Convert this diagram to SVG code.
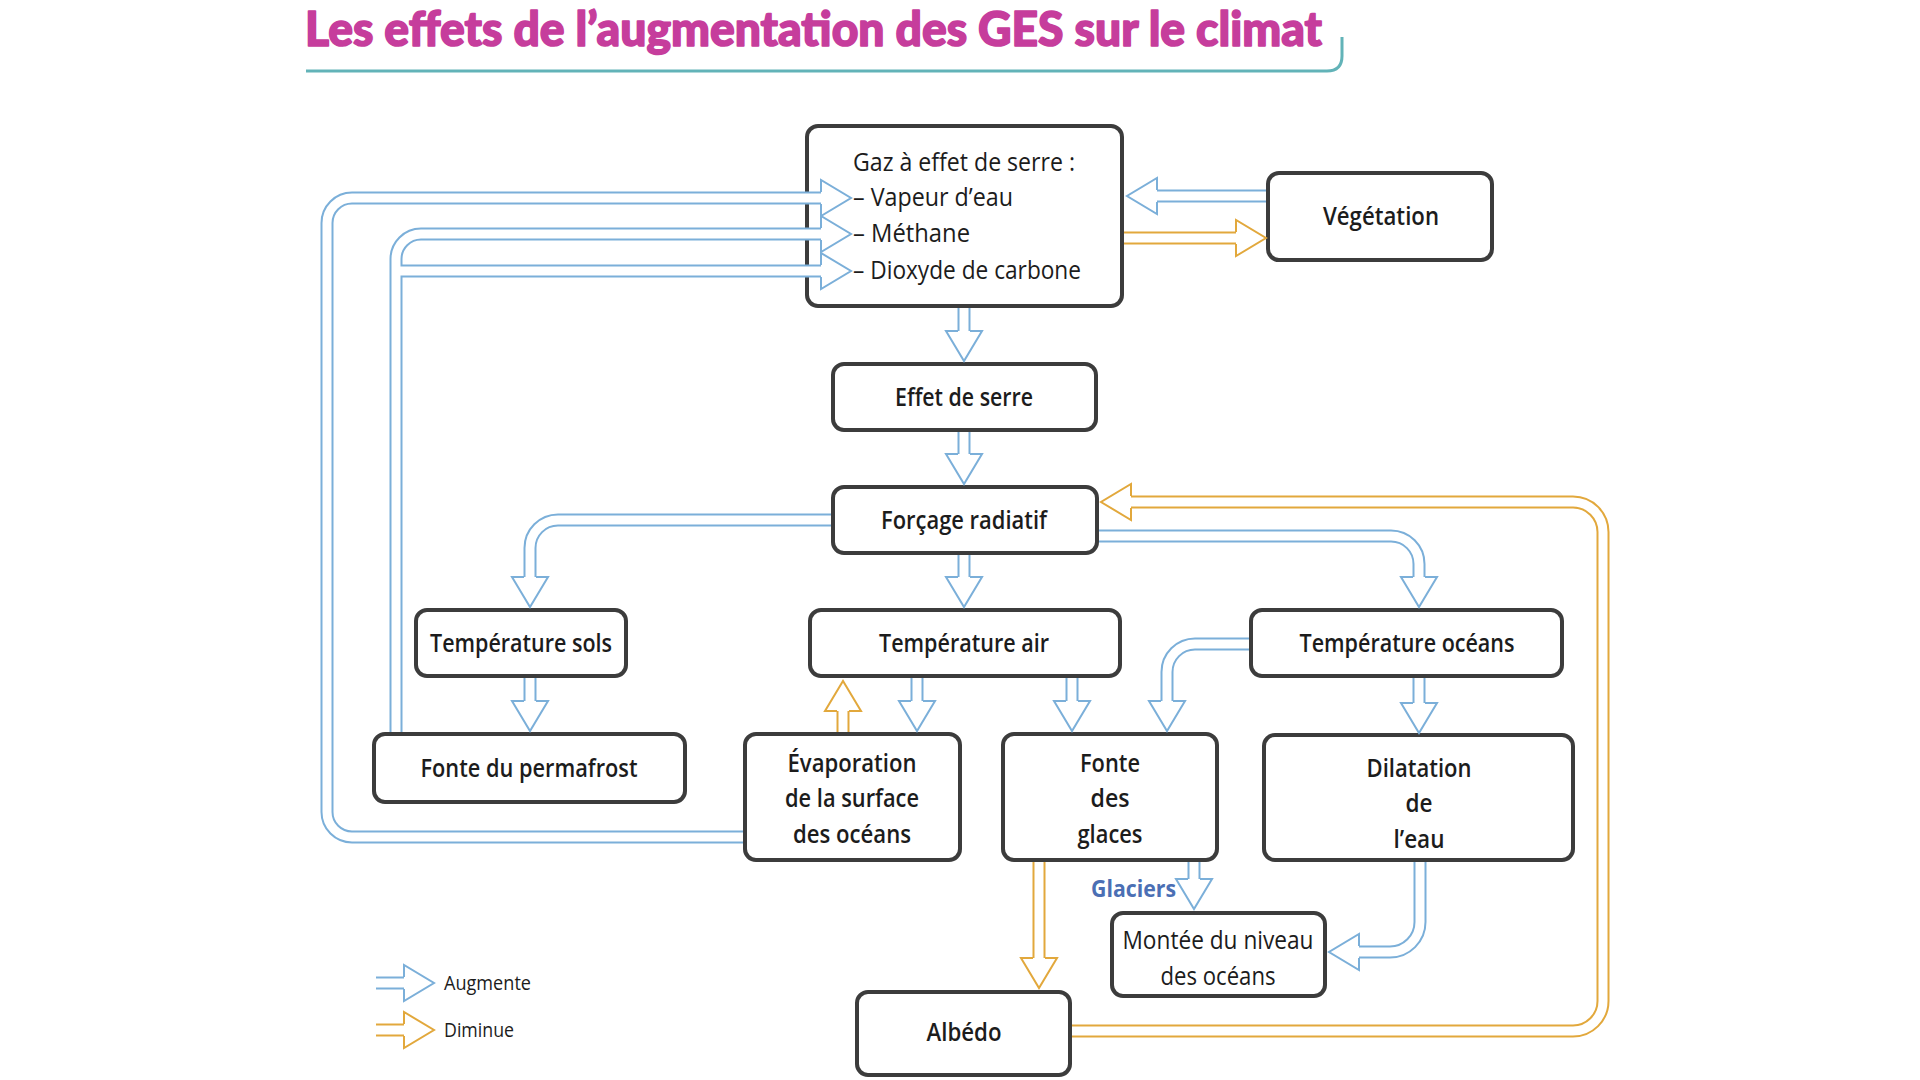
<svg xmlns="http://www.w3.org/2000/svg" width="1920" height="1080" viewBox="0 0 1920 1080">
<style>
.box{fill:#fff;stroke:#3c3c3c;stroke-width:4}
.lbl{font-family:"Open Sans","Noto Sans",sans-serif;font-size:25px;fill:#1c1c1c;text-anchor:middle;font-weight:600}
.reg{font-weight:400}
.mid{font-weight:500}
.left{text-anchor:start}
.bo{fill:none;stroke:#7bafd9;stroke-width:13}
.oo{fill:none;stroke:#e2a83c;stroke-width:13}
.in{fill:none;stroke:#fff;stroke-width:9}
.leg{font-family:"Open Sans","Noto Sans",sans-serif;font-size:20px;fill:#1c1c1c}
</style>
<defs>
<marker id="hb" markerUnits="userSpaceOnUse" markerWidth="40" markerHeight="40" viewBox="0 0 40 40" refX="1" refY="20" orient="auto" overflow="visible">
<path d="M1,14 L1,2 L31,20 L1,38 L1,26" fill="#fff" stroke="#7bafd9" stroke-width="2"/>
</marker>
<marker id="ho" markerUnits="userSpaceOnUse" markerWidth="40" markerHeight="40" viewBox="0 0 40 40" refX="1" refY="20" orient="auto" overflow="visible">
<path d="M1,14 L1,2 L31,20 L1,38 L1,26" fill="#fff" stroke="#e2a83c" stroke-width="2"/>
</marker>
</defs>
<rect width="1920" height="1080" fill="#fff"/>

<g id="title">
<text x="305" y="46" font-family="Lato,'Open Sans',sans-serif" font-weight="900" font-size="48" fill="#c63d9c" stroke="#c63d9c" stroke-width="1.6" stroke-linejoin="round" textLength="1017" lengthAdjust="spacingAndGlyphs">Les effets de l’augmentation des GES sur le climat</text>
<path d="M306,71 H1327 Q1342,71 1342,56 V37" fill="none" stroke="#62b3b8" stroke-width="3"/>
</g>

<g id="nodes">
<g id="gaz"><rect class="box" x="807" y="126" width="315" height="180" rx="11"/>
<text class="lbl mid left" x="853" y="171" textLength="222" lengthAdjust="spacingAndGlyphs">Gaz à effet de serre :</text>
<text class="lbl mid left" x="853" y="206" textLength="160" lengthAdjust="spacingAndGlyphs">– Vapeur d’eau</text>
<text class="lbl mid left" x="853" y="242" textLength="117" lengthAdjust="spacingAndGlyphs">– Méthane</text>
<text class="lbl mid left" x="853" y="279" textLength="228" lengthAdjust="spacingAndGlyphs">– Dioxyde de carbone</text></g>
<g id="vegetation"><rect class="box" x="1268" y="173" width="224" height="87" rx="11"/>
<text class="lbl" x="1381" y="225" textLength="116" lengthAdjust="spacingAndGlyphs">Végétation</text></g>
<g id="effet-serre"><rect class="box" x="833" y="364" width="263" height="66" rx="11"/>
<text class="lbl" x="964" y="406" textLength="138" lengthAdjust="spacingAndGlyphs">Effet de serre</text></g>
<g id="forcage"><rect class="box" x="833" y="487" width="264" height="66" rx="11"/>
<text class="lbl" x="964" y="529" textLength="166" lengthAdjust="spacingAndGlyphs">Forçage radiatif</text></g>
<g id="temp-sols"><rect class="box" x="416" y="610" width="210" height="66" rx="11"/>
<text class="lbl" x="521" y="652" textLength="182" lengthAdjust="spacingAndGlyphs">Température sols</text></g>
<g id="temp-air"><rect class="box" x="810" y="610" width="310" height="66" rx="11"/>
<text class="lbl" x="964" y="652" textLength="170" lengthAdjust="spacingAndGlyphs">Température air</text></g>
<g id="temp-oceans"><rect class="box" x="1251" y="610" width="311" height="66" rx="11"/>
<text class="lbl" x="1407" y="652" textLength="215" lengthAdjust="spacingAndGlyphs">Température océans</text></g>
<g id="permafrost"><rect class="box" x="374" y="734" width="311" height="68" rx="11"/>
<text class="lbl" x="529" y="777" textLength="217" lengthAdjust="spacingAndGlyphs">Fonte du permafrost</text></g>
<g id="evaporation"><rect class="box" x="745" y="734" width="215" height="126" rx="11"/>
<text class="lbl" x="852" y="772" textLength="129" lengthAdjust="spacingAndGlyphs">Évaporation</text>
<text class="lbl" x="852" y="807" textLength="134" lengthAdjust="spacingAndGlyphs">de la surface</text>
<text class="lbl" x="852" y="843" textLength="118" lengthAdjust="spacingAndGlyphs">des océans</text></g>
<g id="fonte-glaces"><rect class="box" x="1003" y="734" width="214" height="126" rx="11"/>
<text class="lbl" x="1110" y="772" textLength="60" lengthAdjust="spacingAndGlyphs">Fonte</text>
<text class="lbl" x="1110" y="807" textLength="39" lengthAdjust="spacingAndGlyphs">des</text>
<text class="lbl" x="1110" y="843" textLength="65" lengthAdjust="spacingAndGlyphs">glaces</text></g>
<g id="dilatation"><rect class="box" x="1264" y="735" width="309" height="125" rx="11"/>
<text class="lbl" x="1419" y="777" textLength="105" lengthAdjust="spacingAndGlyphs">Dilatation</text>
<text class="lbl" x="1419" y="812" textLength="27" lengthAdjust="spacingAndGlyphs">de</text>
<text class="lbl" x="1419" y="848" textLength="51" lengthAdjust="spacingAndGlyphs">l’eau</text></g>
<g id="montee"><rect class="box" x="1112" y="913" width="213" height="83" rx="11"/>
<text class="lbl reg" x="1218" y="949" textLength="191" lengthAdjust="spacingAndGlyphs">Montée du niveau</text>
<text class="lbl reg" x="1218" y="985" textLength="115" lengthAdjust="spacingAndGlyphs">des océans</text></g>
<g id="albedo"><rect class="box" x="857" y="992" width="213" height="83" rx="11"/>
<text class="lbl" x="964" y="1041" textLength="75" lengthAdjust="spacingAndGlyphs">Albédo</text></g>
</g>

<g id="connectors">
<path class="bo" marker-end="url(#hb)" d="M964,308 V331"/><path class="in" d="M964,308 V331"/>
<path class="bo" marker-end="url(#hb)" d="M964,432 V454"/><path class="in" d="M964,432 V454"/>
<path class="bo" marker-end="url(#hb)" d="M964,555 V577"/><path class="in" d="M964,555 V577"/>
<path class="bo" marker-end="url(#hb)" d="M831,520 H558 A28,28 0 0 0 530,548 V577"/><path class="in" d="M831,520 H558 A28,28 0 0 0 530,548 V577"/>
<path class="bo" marker-end="url(#hb)" d="M1099,536 H1391 A28,28 0 0 1 1419,564 V577"/><path class="in" d="M1099,536 H1391 A28,28 0 0 1 1419,564 V577"/>
<path class="bo" marker-end="url(#hb)" d="M530,678 V701"/><path class="in" d="M530,678 V701"/>
<path class="bo" marker-end="url(#hb)" d="M396,732 V259 A25,25 0 0 1 421,234 H821"/>
<path class="bo" marker-end="url(#hb)" d="M396,271 H821"/>
<path class="in" d="M396,732 V259 A25,25 0 0 1 421,234 H821"/>
<path class="in" d="M396,271 H821"/>
<path class="bo" marker-end="url(#hb)" d="M743,837 H352 A25,25 0 0 1 327,812 V223 A25,25 0 0 1 352,198 H821"/><path class="in" d="M743,837 H352 A25,25 0 0 1 327,812 V223 A25,25 0 0 1 352,198 H821"/>
<path class="bo" marker-end="url(#hb)" d="M1266,196 H1157"/><path class="in" d="M1266,196 H1157"/>
<path class="oo" marker-end="url(#ho)" d="M1124,238 H1236"/><path class="in" d="M1124,238 H1236"/>
<path class="bo" marker-end="url(#hb)" d="M1249,644 H1195 A28,28 0 0 0 1167,672 V701"/><path class="in" d="M1249,644 H1195 A28,28 0 0 0 1167,672 V701"/>
<path class="bo" marker-end="url(#hb)" d="M917,678 V701"/><path class="in" d="M917,678 V701"/>
<path class="oo" marker-end="url(#ho)" d="M843,732 V711"/><path class="in" d="M843,732 V711"/>
<path class="bo" marker-end="url(#hb)" d="M1072,678 V701"/><path class="in" d="M1072,678 V701"/>
<path class="bo" marker-end="url(#hb)" d="M1419,678 V703"/><path class="in" d="M1419,678 V703"/>
<path class="bo" marker-end="url(#hb)" d="M1194,862 V879"/><path class="in" d="M1194,862 V879"/>
<path class="bo" marker-end="url(#hb)" d="M1420,862 V922 A30,30 0 0 1 1390,952 H1359"/><path class="in" d="M1420,862 V922 A30,30 0 0 1 1390,952 H1359"/>
<path class="oo" marker-end="url(#ho)" d="M1039,862 V958"/><path class="in" d="M1039,862 V958"/>
<path class="oo" marker-end="url(#ho)" d="M1072,1031 H1573 A30,30 0 0 0 1603,1001 V532 A30,30 0 0 0 1573,502 H1131"/><path class="in" d="M1072,1031 H1573 A30,30 0 0 0 1603,1001 V532 A30,30 0 0 0 1573,502 H1131"/>
<text x="1091" y="897" font-family="'Open Sans','Noto Sans',sans-serif" font-weight="700" font-size="24" fill="#4b6fb4" textLength="85" lengthAdjust="spacingAndGlyphs">Glaciers</text>
</g>

<g id="legend">
<path class="bo" marker-end="url(#hb)" d="M376,983 H404"/><path class="in" d="M376,983 H404"/>
<text class="leg" x="444" y="990" textLength="87" lengthAdjust="spacingAndGlyphs">Augmente</text>
<path class="oo" marker-end="url(#ho)" d="M376,1030 H404"/><path class="in" d="M376,1030 H404"/>
<text class="leg" x="444" y="1037" textLength="70" lengthAdjust="spacingAndGlyphs">Diminue</text>
</g>
</svg>
